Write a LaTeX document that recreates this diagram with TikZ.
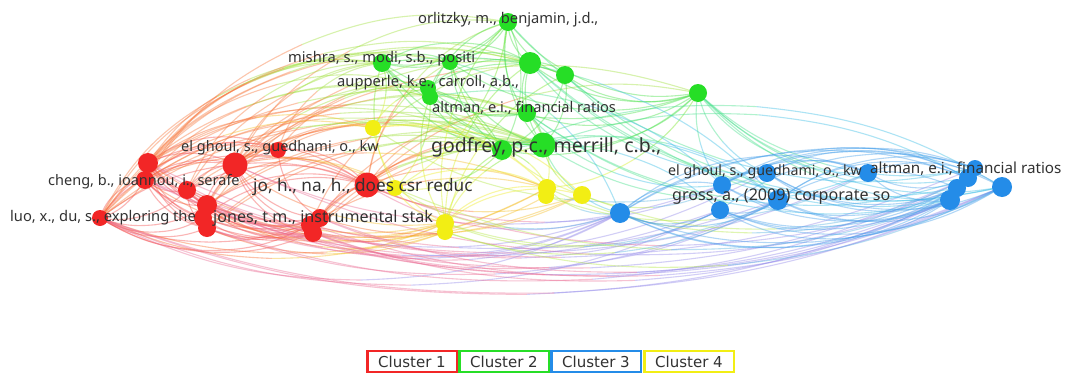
\documentclass[tikz,border=0pt]{standalone}
\usepackage{fontspec}
\setmainfont{Noto Sans}
\newfontfamily\legfont{DejaVu Sans}
\definecolor{cr}{RGB}{242,38,38}
\definecolor{cg}{RGB}{38,222,38}
\definecolor{cb}{RGB}{36,140,232}
\definecolor{cy}{RGB}{242,238,20}
\definecolor{txt}{RGB}{50,50,50}
\definecolor{rgR}{RGB}{248,120,60}\definecolor{rgG}{RGB}{160,225,60}
\definecolor{ryR}{RGB}{248,110,50}\definecolor{ryY}{RGB}{245,190,40}
\definecolor{rbR}{RGB}{235,110,150}\definecolor{rbB}{RGB}{150,140,235}
\definecolor{gyG}{RGB}{120,230,40}\definecolor{gyY}{RGB}{215,240,40}
\definecolor{gbG}{RGB}{70,225,140}\definecolor{gbB}{RGB}{60,190,230}
\definecolor{ybY}{RGB}{180,232,70}\definecolor{ybB}{RGB}{90,180,225}
\definecolor{rrA}{RGB}{245,80,80}
\definecolor{ggA}{RGB}{70,225,70}
\definecolor{bbA}{RGB}{70,160,235}
\definecolor{yyA}{RGB}{240,235,40}
\tikzset{
  edge/.style={line width=1.1pt,draw opacity=0.42},
  vn/.style={circle,inner sep=0pt,minimum size=#1,draw=none},
  lab/.style={anchor=west,inner sep=0pt,text=txt},
  leg/.style={draw,line width=2.5pt,minimum width=89.5pt,minimum height=21pt,inner sep=0pt,font=\legfont\fontsize{15}{17}\selectfont,text=txt,fill=white}
}
\newcommand\lnk[5]{%
  \pgfmathsetmacro\hb{#3/2}%
  \path (#1) to[bend left=#3] coordinate[pos=0.5] (mid) (#2);
  \draw[edge,#4] (#1) to[bend left=\hb] (mid);
  \draw[edge,#5] (mid) to[bend left=\hb] (#2);}
\begin{document}
\begin{tikzpicture}[x=1pt,y=-1pt]
\fill[white] (0,0) rectangle (1066,375);
\useasboundingbox (0,0) rectangle (1066,375);
% ---- node positions ----
\path
 (148,163) coordinate (r1) (145,180) coordinate (r2) (235,165) coordinate (r3)
 (278,150) coordinate (r4) (187,190) coordinate (r5) (207,205) coordinate (r6)
 (203,218) coordinate (r7) (207,228) coordinate (r8) (100,218) coordinate (r9)
 (367,185) coordinate (r10) (320,218) coordinate (r11) (313,233) coordinate (r12)
 (310,225) coordinate (r13)
 (508,22) coordinate (g1) (382,63) coordinate (g2) (450,62) coordinate (g3)
 (530,63) coordinate (g4) (565,75) coordinate (g5) (428,88) coordinate (g6)
 (430,97) coordinate (g7) (527,113) coordinate (g8) (502,150) coordinate (g9)
 (543,145) coordinate (g10) (698,93) coordinate (g11)
 (373,128) coordinate (y1) (395,188) coordinate (y2) (547,188) coordinate (y3)
 (546,196) coordinate (y4) (582,195) coordinate (y5) (445,223) coordinate (y6)
 (445,232) coordinate (y7)
 (620,213) coordinate (b1) (722,185) coordinate (b2) (720,210) coordinate (b3)
 (767,173) coordinate (b4) (778,200) coordinate (b5) (868,173) coordinate (b6)
 (950,200) coordinate (b7) (957,188) coordinate (b8) (968,178) coordinate (b9)
 (975,168) coordinate (b10) (1002,187) coordinate (b11);
% ---- edges ----
\foreach \a/\b/\t in {r1/r3/25,r1/r4/30,r1/r5/-25,r1/r6/-25,r1/r10/28,r1/r11/-25,r1/r12/-25,r9/r1/-30,
 r2/r3/25,r2/r6/-25,r2/r8/-25,r2/r10/25,r2/r12/-28,r3/r4/25,r3/r5/-25,r3/r7/-25,r3/r10/25,r3/r11/-25,
 r3/r13/-25,r4/r10/25,r4/r6/-25,r5/r10/25,r5/r12/-25,r6/r10/25,r6/r11/-25,r7/r12/-25,r8/r11/-25,
 r8/r13/-25,r9/r3/30,r9/r6/-25,r9/r10/28,r9/r12/-25,r9/r8/-25,r9/r2/30,r10/r11/-25,r10/r12/-25,
 r5/r8/-25,r7/r10/25,r2/r4/30,r1/r13/-25,r9/r4/32,r9/r11/-22,r9/r13/-28,r2/r11/-30,r1/r8/-30,
 r5/r13/-30,r6/r12/-30,r9/r5/-25,r2/r5/-25,r4/r11/-25,r3/r12/-30,r1/r7/-28,r9/r7/-28,r5/r11/-28}
 {\lnk{\a}{\b}{\t}{rrA}{rrA}}
\foreach \a/\b/\t in {r1/g2/30,r1/g6/30,r1/g9/28,r1/g10/25,r1/g4/32,r2/g7/30,r2/g10/25,r3/g2/30,
 r3/g9/25,r3/g10/25,r3/g8/28,r3/g1/32,r4/g6/28,r4/g9/25,r5/g10/25,r5/g3/30,r6/g9/25,r6/g10/22,
 r7/g4/28,r8/g10/22,r9/g2/32,r9/g10/25,r9/g9/28,r10/g9/25,r10/g10/25,r10/g8/28,r10/g1/30,
 r11/g10/25,r12/g9/25,r13/g4/28,r2/g1/32,r9/g7/32,r10/g11/25,r3/g11/25,r1/g5/30,r9/g4/33,
 r2/g2/33,r5/g2/32,r6/g6/30,r9/g3/34,r1/g3/30,r3/g6/28,r4/g2/30,r5/g8/28,r6/g4/30,r8/g9/25,
 r11/g8/25,r12/g10/22,r9/g8/30,r2/g9/26,r10/g3/25,r13/g9/22}
 {\lnk{\a}{\b}{\t}{rgR}{rgG}}
\foreach \a/\b/\t in {r1/y1/25,r3/y2/20,r3/y6/-20,r1/y6/-22,r9/y6/-22,r5/y3/20,r10/y3/20,r10/y5/-20,
 r12/y6/-20,r2/y2/22,r9/y3/-22,r6/y5/-20,r11/y3/20,r4/y1/22,r8/y7/-20,r13/y4/-20,r9/y1/28,
 r2/y6/-24,r6/y7/-24,r5/y6/-22,r11/y5/-20,r7/y3/-22}
 {\lnk{\a}{\b}{\t}{ryR}{ryY}}
\foreach \a/\b/\t in {r1/b1/-24,r1/b5/-21,r9/b7/-20,r9/b11/-20,r2/b3/-21,r3/b2/-20,r3/b7/-20,
 r5/b6/-21,r6/b1/-24,r6/b9/-20,r8/b5/-21,r10/b1/-23,r10/b2/-21,r10/b8/-20,r11/b3/-22,r12/b7/-20,
 r12/b1/-24,r13/b11/-20,r7/b4/-21,r2/b10/-20,r9/b1/-25,r9/b3/-23,r2/b7/-21,r8/b9/-20,r6/b11/-20,
 r11/b7/-20,r5/b1/-25,r12/b5/-22}
 {\lnk{\a}{\b}{\t}{rbR}{rbB}}
\foreach \a/\b/\t in {g1/g2/25,g1/g3/25,g1/g4/-25,g1/g5/-25,g1/g8/-25,g1/g9/25,g1/g10/-25,g1/g11/-28,
 g2/g3/25,g2/g6/-25,g2/g9/-25,g2/g10/-25,g3/g4/25,g3/g7/-25,g3/g10/-25,g4/g5/25,g4/g8/-25,g4/g10/-25,
 g4/g11/-25,g5/g9/25,g5/g10/25,g5/g11/-25,g6/g8/-25,g6/g10/-25,g7/g9/-25,g8/g10/25,g8/g11/-25,
 g9/g10/25,g9/g11/-25,g10/g11/-25,g2/g8/-25,g6/g4/25,g2/g1/-30,g7/g1/28,g6/g5/25,g3/g9/-22,
 g2/g4/28,g7/g10/-22,g3/g11/-25,g2/g11/-25,g6/g9/22}
 {\lnk{\a}{\b}{\t}{ggA}{ggA}}
\foreach \a/\b/\t in {g2/y1/25,g6/y1/-25,g9/y3/25,g10/y5/-25,g7/y6/-25,g8/y3/25,g4/y6/-25,g1/y2/25,
 g3/y5/-25,g10/y6/-25,g9/y2/25,g11/y3/25,g5/y7/-25,g2/y2/-22,g7/y2/22,g9/y6/-22,g1/y6/-25}
 {\lnk{\a}{\b}{\t}{gyG}{gyY}}
\foreach \a/\b/\t in {g11/b6/-25,g11/b9/-25,g11/b10/-25,g11/b11/-25,g11/b4/-25,g10/b1/-25,g10/b5/25,
 g8/b2/-25,g4/b8/-25,g5/b7/-25,g9/b3/25,g1/b10/-28,g10/b6/-25,g8/b9/-25,g3/b1/25,g2/b5/25,g5/b11/-25,
 g4/b4/-25,g7/b2/25,g9/b11/25,g11/b7/-22,g11/b2/-22,g4/b11/-25,g8/b7/-22,g9/b5/25,g10/b9/22}
 {\lnk{\a}{\b}{\t}{gbG}{gbB}}
\foreach \a/\b/\t in {y3/b1/-25,y5/b2/-25,y6/b5/-20,y1/b4/-25,y2/b7/-20,y6/b3/-22,y5/b9/-22,y3/b8/-22,
 y4/b6/-22,y7/b11/-20,y2/b1/-24,y7/b5/-22}
 {\lnk{\a}{\b}{\t}{ybY}{ybB}}
\foreach \a/\b/\t in {b1/b2/25,b1/b3/-25,b1/b5/-25,b1/b7/-25,b1/b9/25,b1/b11/-22,b2/b4/25,b2/b6/25,
 b2/b7/-25,b2/b11/25,b3/b5/-25,b3/b8/-25,b3/b10/25,b4/b6/25,b4/b9/25,b4/b11/-25,b5/b7/-25,b5/b10/25,
 b5/b11/-25,b6/b7/-25,b6/b11/25,b3/b9/-25,b2/b8/-25,b4/b7/-25,b1/b10/22,b5/b8/25,b6/b9/-25,b3/b11/-25,
 b1/b8/-28,b2/b9/28,b3/b7/-30,b1/b6/28,b4/b8/-25,b5/b9/28,b2/b10/22}
 {\lnk{\a}{\b}{\t}{bbA}{bbA}}
\foreach \a/\b/\t in {y1/y6/-25,y2/y3/25,y3/y6/-25,y5/y6/-25,y1/y3/25,y2/y6/-20,y1/y5/25}
 {\lnk{\a}{\b}{\t}{yyA}{yyA}}
% ---- nodes ----
\foreach \n/\d in {r1/20,r2/18,r3/25,r4/16,r5/18,r6/20,r7/18,r8/18,r9/16,r10/25,r11/18,r12/18,r13/18}
 \node[vn=\d pt,fill=cr] (n\n) at (\n) {};
\foreach \n/\d in {g1/18,g2/18,g3/16,g4/22,g5/18,g6/16,g7/16,g8/18,g9/20,g10/25,g11/18}
 \node[vn=\d pt,fill=cg] (n\n) at (\n) {};
\foreach \n/\d in {y1/16,y2/16,y3/18,y4/16,y5/18,y6/18,y7/16}
 \node[vn=\d pt,fill=cy] (n\n) at (\n) {};
\foreach \n/\d in {b1/20,b2/18,b3/18,b4/18,b5/20,b6/18,b7/20,b8/18,b9/18,b10/16,b11/20}
 \node[vn=\d pt,fill=cb] (n\n) at (\n) {};
% ---- labels ----
\node[lab,font=\fontsize{14.7}{16}\selectfont] (l1) at (418,20) {orlitzky, m., benjamin, j.d.,};
\node[lab,font=\fontsize{14.7}{16}\selectfont] (l2) at (288,59) {mishra, s., modi, s.b., positi};
\node[lab,font=\fontsize{14.7}{16}\selectfont] (l3) at (337,83) {aupperle, k.e., carroll, a.b.,};
\node[lab,font=\fontsize{14.6}{16}\selectfont] (l4) at (432,108) {altman, e.i., financial ratios};
\node[lab,font=\fontsize{19.5}{21}\selectfont] (l5) at (431,147) {godfrey, p.c., merrill, c.b.,};
\node[lab,font=\fontsize{14.5}{16}\selectfont] (l6) at (181,148) {el ghoul, s., guedhami, o., kw};
\node[lab,font=\fontsize{14.5}{16}\selectfont] (l7) at (48,182) {cheng, b., ioannou, i., serafe};
\node[lab,font=\fontsize{17.2}{19}\selectfont] (l8) at (253,187) {jo, h., na, h., does csr reduc};
\node[lab,font=\fontsize{14.7}{16}\selectfont] (l9) at (10,218) {luo, x., du, s., exploring the};
\node[lab,font=\fontsize{16.1}{18}\selectfont] (l10) at (213,218) {jones, t.m., instrumental stak};
\node[lab,font=\fontsize{14.2}{16}\selectfont] (l11) at (668,172) {el ghoul, s., guedhami, o., kw};
\node[lab,font=\fontsize{15.2}{17}\selectfont] (l12) at (870,169) {altman, e.i., financial ratios};
\node[lab,font=\fontsize{16.1}{18}\selectfont] (l13) at (672,197) {gross, a., (2009) corporate so};
% ---- legend ----
\node[leg,draw=cr] (c1) at (412,361.5) {Cluster 1};
\node[leg,draw=cg] (c2) at (504,361.5) {Cluster 2};
\node[leg,draw=cb] (c3) at (596,361.5) {Cluster 3};
\node[leg,draw=cy] (c4) at (689,361.5) {Cluster 4};
\end{tikzpicture}
\end{document}
